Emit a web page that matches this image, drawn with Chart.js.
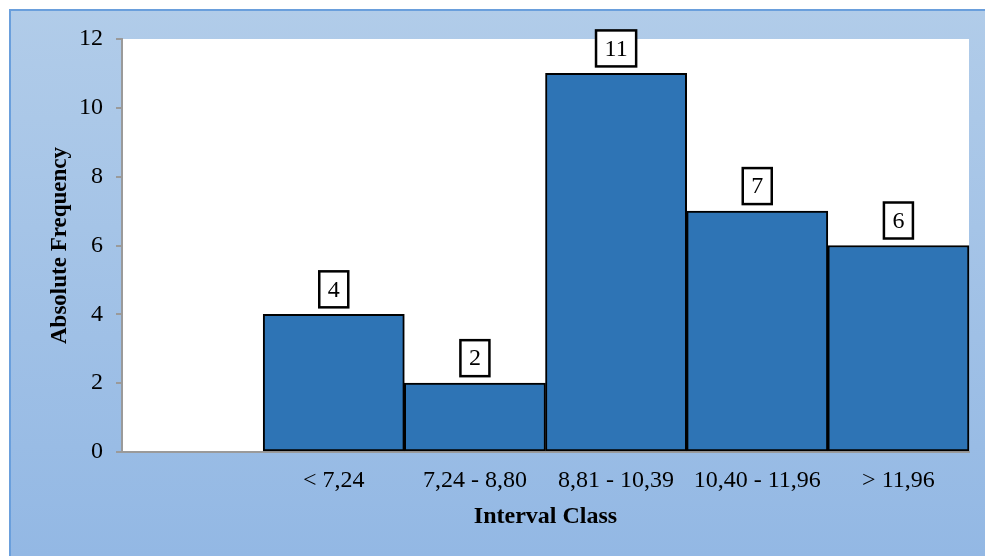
<!DOCTYPE html>
<html>
<head>
<meta charset="utf-8">
<script src="https://cdn.jsdelivr.net/npm/chart.js@4"></script>
<style>
  html, body { margin: 0; padding: 0; background: #ffffff; }
  #wrap { width: 985px; height: 556px; position: relative; }
</style>
</head>
<body>
<div id="wrap"><canvas id="c" width="985" height="556"></canvas></div>
<script>
const categories = ['', '< 7,24', '7,24 - 8,80', '8,81 - 10,39', '10,40 - 11,96', '> 11,96'];
const frequencies = [null, 4, 2, 11, 7, 6];
const yTicks = [0, 2, 4, 6, 8, 10, 12];

const FONT = "'Liberation Serif', 'Times New Roman', serif";

const bgPlugin = {
  id: 'bgPlugin',
  beforeDraw(chart) {
    const ctx = chart.ctx;
    const w = chart.width, h = chart.height;
    ctx.save();
    ctx.fillStyle = '#ffffff';
    ctx.fillRect(0, 0, w, h);
    const g = ctx.createLinearGradient(0, 9, 0, h);
    g.addColorStop(0, '#b1cce9');
    g.addColorStop(1, '#93b8e4');
    ctx.fillStyle = g;
    ctx.fillRect(9, 9, w - 9, h - 9);
    ctx.strokeStyle = '#6a9fdc';
    ctx.lineWidth = 2;
    ctx.beginPath();
    ctx.moveTo(10, h);
    ctx.lineTo(10, 10);
    ctx.lineTo(w, 10);
    ctx.stroke();
    const a = chart.chartArea;
    ctx.fillStyle = '#ffffff';
    ctx.fillRect(a.left, a.top, a.right - a.left, a.bottom - a.top);
    ctx.restore();
  }
};

const boxLabels = {
  id: 'boxLabels',
  afterDatasetsDraw(chart) {
    const ctx = chart.ctx;
    const meta = chart.getDatasetMeta(0);
    ctx.save();
    ctx.font = '24px ' + FONT;
    ctx.textAlign = 'center';
    ctx.textBaseline = 'middle';
    meta.data.forEach((bar, i) => {
      const v = frequencies[i];
      if (v === null || v === undefined) return;
      const txt = String(v);
      const tw = ctx.measureText(txt).width;
      const bw = tw + 17;
      const bh = 36;
      const bottom = bar.y - 7;
      const top = bottom - bh;
      ctx.fillStyle = '#ffffff';
      ctx.fillRect(bar.x - bw / 2, top, bw, bh);
      ctx.strokeStyle = '#000000';
      ctx.lineWidth = 2.5;
      ctx.strokeRect(bar.x - bw / 2, top, bw, bh);
      ctx.fillStyle = '#000000';
      ctx.fillText(txt, bar.x, top + bh / 2 + 1);
    });
    ctx.restore();
  }
};

new Chart(document.getElementById('c'), {
  type: 'bar',
  data: {
    labels: categories,
    datasets: [{
      data: frequencies,
      backgroundColor: '#2e74b5',
      borderColor: '#000000',
      borderWidth: 2,
      borderSkipped: false,
      barPercentage: 1.0,
      categoryPercentage: 1.0,
      clip: false
    }]
  },
  options: {
    responsive: false,
    animation: false,
    devicePixelRatio: 1,
    layout: { padding: { top: 39, right: 16, left: 0, bottom: 0 } },
    plugins: {
      legend: { display: false },
      tooltip: { enabled: false },
      title: { display: false }
    },
    scales: {
      x: {
        grid: { display: false, drawTicks: false },
        border: { display: true, color: '#9a9a9a', width: 2 },
        ticks: {
          color: '#000000',
          font: { family: FONT, size: 24 },
          padding: 14,
          maxRotation: 0,
          autoSkip: false
        },
        title: {
          display: true,
          text: 'Interval Class',
          color: '#000000',
          font: { family: FONT, size: 24, weight: 'bold' },
          padding: { top: 0, bottom: 25 }
        },
        afterFit(scale) { scale.height = 104; }
      },
      y: {
        min: 0,
        max: 12,
        afterBuildTicks(scale) { scale.ticks = yTicks.map(v => ({ value: v })); },
        grid: {
          display: true,
          drawOnChartArea: false,
          drawTicks: true,
          tickLength: 6,
          color: '#9a9a9a',
          lineWidth: 2
        },
        border: { display: true, color: '#9a9a9a', width: 2 },
        ticks: {
          color: '#000000',
          font: { family: FONT, size: 24 },
          padding: 13
        },
        title: {
          display: true,
          text: 'Absolute Frequency',
          color: '#000000',
          font: { family: FONT, size: 23, weight: 'bold' },
          padding: { top: 46, bottom: 0 }
        },
        afterFit(scale) { scale.width = 122; }
      }
    }
  },
  plugins: [bgPlugin, boxLabels]
});
</script>
</body>
</html>
